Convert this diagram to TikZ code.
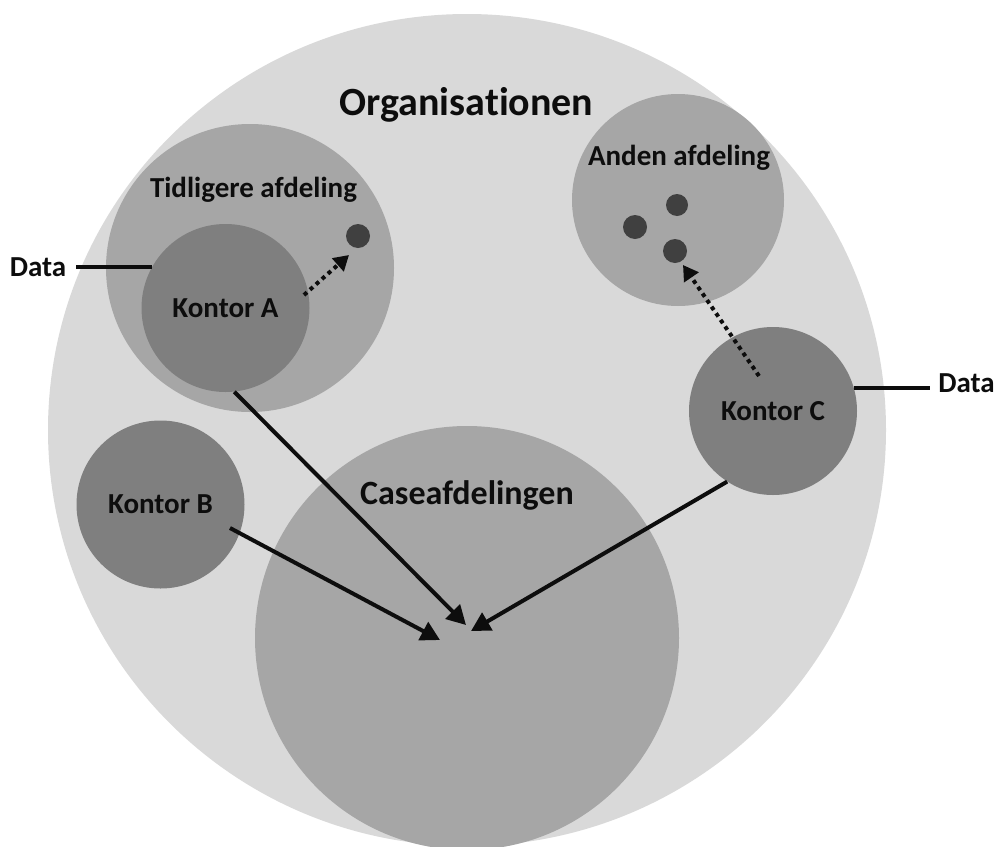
\documentclass[tikz,border=0pt]{standalone}
\usepackage{fontspec}
\setmainfont{Carlito}[RawFeature=-liga]
\usetikzlibrary{arrows.meta,shapes.geometric}
\definecolor{orgfill}{HTML}{D9D9D9}
\definecolor{deptfill}{HTML}{A6A6A6}
\definecolor{kontorfill}{HTML}{7F7F7F}
\definecolor{dotfill}{HTML}{404040}
\definecolor{ink}{HTML}{0D0D0D}
\begin{document}
\begin{tikzpicture}[x=1pt,y=-1pt,
  lbl/.style={font=\bfseries\fontsize{29}{34}\selectfont, inner sep=0pt, text=ink},
  kontor/.style={circle, fill=kontorfill, minimum size=168pt, inner sep=0pt,
    font=\bfseries\fontsize{29}{34}\selectfont, text=ink},
  dept/.style={circle, fill=deptfill, inner sep=0pt},
  dotnode/.style={circle, fill=dotfill, inner sep=0pt, minimum size=24pt},
  flow/.style={draw=ink, line width=4pt, -{Triangle[length=19pt,width=20pt]}},
  dotflow/.style={draw=ink, line width=4pt, dash pattern=on 4pt off 4pt,
    -{Triangle[length=15pt,width=17pt]}},
  dataline/.style={draw=ink, line width=4.5pt}
]
\useasboundingbox (0,0) rectangle (998,846);
% containers
\node[ellipse, fill=orgfill, minimum width=838pt, minimum height=832pt, inner sep=0pt] (org) at (467,430) {};
\node[dept, minimum size=288pt] (tidl) at (250,268) {};
\node[dept, minimum size=212pt] (anden) at (678,200) {};
\node[dept, minimum size=424pt] (case) at (467,638) {};
% offices
\node[kontor] (kA) at (225.5,308) {Kontor A};
\node[kontor] (kB) at (160.5,504.5) {Kontor B};
\node[kontor] (kC) at (773,411) {Kontor C};
% dots
\node[dotnode] (dotA) at (358,236) {};
\node[dotnode] (dot1) at (635,227) {};
\node[dotnode, minimum size=22pt] (dot2) at (677,205) {};
\node[dotnode] (dot3) at (675,251) {};
% labels
\node[lbl, font=\bfseries\fontsize{40}{48}\selectfont, anchor=base] (orgl) at (466.5,115) {Organisationen};
\node[lbl, anchor=base] (tidll) at (253.5,197) {Tidligere afdeling};
\node[lbl, anchor=base] (andenl) at (679,165) {Anden afdeling};
\node[lbl, font=\bfseries\fontsize{34}{40}\selectfont, anchor=base] (casel) at (467,504) {Caseafdelingen};
\node[lbl, inner xsep=10pt, anchor=base] (dataL) at (38,276) {Data};
\node[lbl, inner xsep=8pt, anchor=base] (dataR) at (966.5,392) {Data};
% coordinates
\coordinate (tA) at ([shift={(-1,-13)}]case.center);
\coordinate (tB) at ([shift={(-27,2)}]case.center);
\coordinate (tC) at ([shift={(4,-7)}]case.center);
\coordinate (sB) at ([shift={(69.5,23.5)}]kB.center);
\coordinate (sDA) at ([shift={(78.5,-13)}]kA.center);
\coordinate (eDA) at ([shift={(-9,19)}]dotA.center);
\coordinate (sDC) at ([shift={(-14,-35)}]kC.center);
\coordinate (eDC) at ([shift={(8,14)}]dot3.center);
% data lines
\draw[dataline] (dataL.east |- kA.151.6) -- (kA.151.6);
\draw[dataline] (kC.16.6) -- (kC.16.6 -| dataR.west);
% dotted arrows
\draw[dotflow] (sDA) -- (eDA);
\draw[dotflow] (sDC) -- (eDC);
% flows to Caseafdelingen
\draw[flow] (kA.-84) -- (tA);
\draw[flow] (sB) -- (tB);
\draw[flow] (kC.-123) -- (tC);
\end{tikzpicture}
\end{document}
